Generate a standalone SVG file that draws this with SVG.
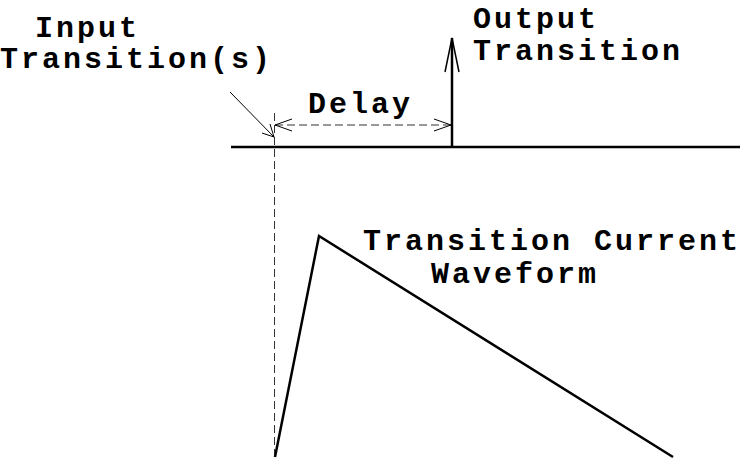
<svg xmlns="http://www.w3.org/2000/svg" width="747" height="459" viewBox="0 0 747 459">
  <style>
    text { font-family: "Liberation Mono", "Courier New", monospace; font-weight: bold; font-size: 30px; letter-spacing: 3px; fill: #000; }
    .thick { stroke: #000; stroke-width: 2.5; fill: none; }
    .thin { stroke: #000; stroke-width: 1; fill: none; }
    .dash { stroke: #333; stroke-width: 1; fill: none; stroke-dasharray: 8 4; }
  </style>
  <rect width="747" height="459" fill="#fff"/>

  <g id="connectors">
    <!-- time axis -->
    <line class="thick" x1="231" y1="147" x2="740" y2="147"/>
    <!-- input reference line -->
    <line class="dash" x1="274.5" y1="113" x2="274.5" y2="457"/>
    <!-- delay span with open heads -->
    <line class="dash" x1="275" y1="125" x2="451" y2="125"/>
    <polyline class="thin" points="292,119 275,125 292,131"/>
    <polyline class="thin" points="434,119 451,125 434,131"/>
    <!-- pointer to input transition -->
    <line class="thin" x1="230" y1="92" x2="274" y2="137"/>
    <polyline class="thin" points="262,133 274,137 270,124"/>
    <!-- output transition arrow -->
    <line class="thick" x1="452" y1="147" x2="452" y2="38"/>
    <polyline class="thin" points="445,72 452,38 459,72" style="stroke-width:1.5"/>
    <!-- transition current waveform -->
    <polyline class="thick" points="275,457 319,236 673,457" stroke-linejoin="miter"/>
  </g>

  <g id="input-label">
    <text x="35" y="37">Input</text>
    <text x="0" y="68">Transition(s)</text>
  </g>
  <g id="output-label">
    <text x="473" y="28">Output</text>
    <text x="473" y="60">Transition</text>
  </g>
  <g id="delay-label">
    <text x="308" y="113">Delay</text>
  </g>
  <g id="waveform-label">
    <text x="363" y="250">Transition Current</text>
    <text x="431" y="283">Waveform</text>
  </g>
</svg>
